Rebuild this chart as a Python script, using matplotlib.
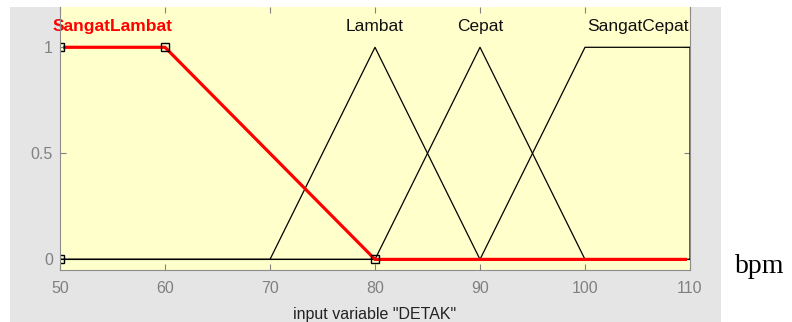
import matplotlib
matplotlib.use("Agg")
import matplotlib.pyplot as plt
from matplotlib.patches import Rectangle

plt.rcParams["font.family"] = ["Liberation Sans", "DejaVu Sans"]

# ── Membership functions of input variable "DETAK" ───────────────────────────
x_range = [50, 110]
mf_names = ["SangatLambat", "Lambat", "Cepat", "SangatCepat"]
mf_types = ["trapmf", "trimf", "trimf", "trapmf"]
mf_params = [
    [50, 50, 60, 80],
    [70, 80, 90],
    [80, 90, 100],
    [90, 100, 110, 110],
]
selected = "SangatLambat"
x_ticks = [50, 60, 70, 80, 90, 100, 110]
y_ticks = [0, 0.5, 1]


def mf_vertices(kind, p):
    # corner points of the membership function, padded with zeros to the range ends
    if kind == "trimf":
        xs, ys = [p[0], p[1], p[2]], [0, 1, 0]
    else:
        xs, ys = [p[0], p[1], p[2], p[3]], [0, 1, 1, 0]
    px = [x_range[0]] + xs + [x_range[1]]
    py = [0] + ys + [0]
    return xs, ys, px, py


fig = plt.figure(figsize=(7.92, 3.22), dpi=100)
fig.patch.set_facecolor("white")
fig.add_artist(Rectangle((10 / 792, 0), 711 / 792, 315 / 322,
                         transform=fig.transFigure, facecolor="#E5E5E5",
                         edgecolor="none", zorder=-10))

ax = fig.add_axes([60 / 792, 52 / 322, 630 / 792, 263 / 322])
ax.set_facecolor("#FFFFCC")

# lines sitting on the frame are hidden by it, as in the MATLAB window
inner = Rectangle((0.004, 0.0), 0.992, 1.0, transform=ax.transAxes,
                  fill=False, visible=False)
ax.add_patch(inner)

for name, kind, p in zip(mf_names, mf_types, mf_params):
    xs, ys, px, py = mf_vertices(kind, p)
    label_x = p[1] if kind == "trimf" else (p[1] + p[2]) / 2
    if name == selected:
        ln, = ax.plot(px, py, color="red", linewidth=2.3, zorder=3)
        ln.set_clip_path(inner)
        ax.plot(xs, ys, linestyle="none", marker="s", markersize=6,
                markerfacecolor="none", markeredgecolor="black",
                markeredgewidth=1.0, zorder=4)
        ax.text(label_x, 1.1, name, color="red", fontsize=12.5,
                fontweight="bold", ha="center", va="center")
    else:
        ax.plot(px, py, color="black", linewidth=0.9, zorder=2)
        ax.text(label_x, 1.1, name, color="#111111", fontsize=12.5,
                ha="center", va="center")

ax.set_xlim(x_range)
ax.set_ylim(-0.05, 1.19)
ax.set_xticks(x_ticks)
ax.set_yticks(y_ticks)
ax.set_yticklabels(["0", "0.5", "1"])
ax.tick_params(direction="in", length=4, color="#808080", labelcolor="#808080",
               labelsize=11.5, top=True, right=True)
ax.tick_params(axis="x", pad=8)
ax.tick_params(axis="y", pad=5)
for side in ["left", "right", "bottom"]:
    ax.spines[side].set_color("#8C8C8C")
    ax.spines[side].set_zorder(5)
ax.spines["top"].set_visible(False)

ax.set_xlabel('input variable "DETAK"', fontsize=11.5, color="#222222",
              labelpad=8)

fig.text(735 / 792, (322 - 273) / 322, "bpm", fontsize=20,
         family=["Liberation Serif", "DejaVu Serif"], ha="left",
         va="baseline", color="black")

fig.savefig("out.png", dpi=100)
